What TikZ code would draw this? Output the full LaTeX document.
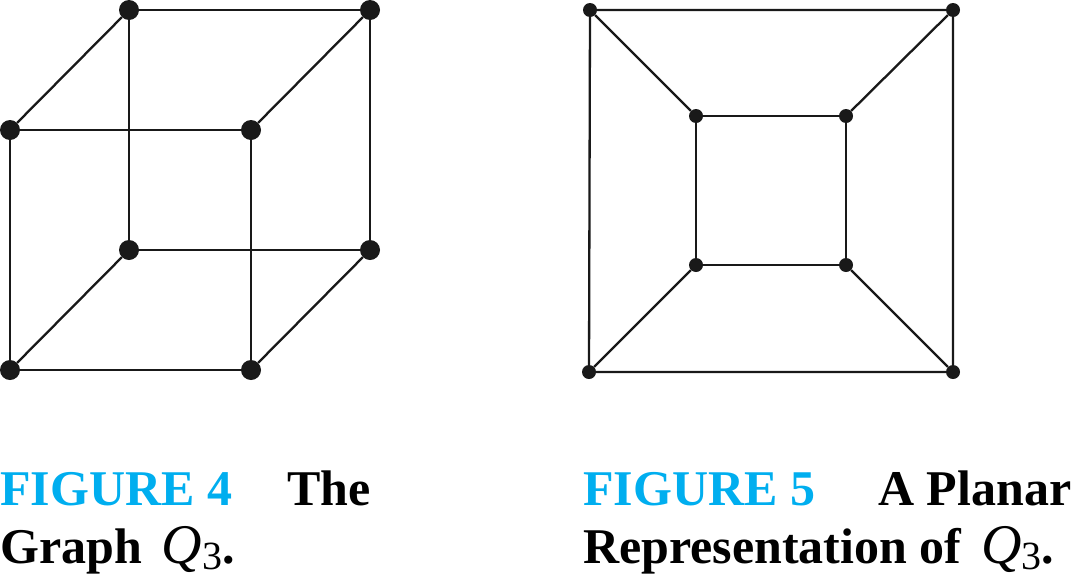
\documentclass[tikz,border=0pt]{standalone}
\usepackage{fontspec}
\setmainfont{Liberation Serif}
\definecolor{figcyan}{RGB}{0,174,239}
\tikzset{
  bigdot/.style={circle, fill=black!90, inner sep=0pt, minimum size=20pt},
  smalldot/.style={circle, fill=black!90, inner sep=0pt, minimum size=14pt},
  edge/.style={line width=2.3pt, black!90},
  caption/.style={anchor=base west, inner sep=0pt, font=\fontsize{50}{58}\selectfont\bfseries}
}
\newcommand{\qthree}{\hspace{0.15em}{\fontsize{56}{58}\selectfont\mdseries\itshape Q}\raisebox{-6pt}{\fontsize{40}{40}\selectfont\mdseries 3}}
\begin{document}
\begin{tikzpicture}[x=1pt, y=-1pt]
    \useasboundingbox (0,0) rectangle (1078,576);

    % Cube Q3: front face
    \node[bigdot] (fa) at (10,130) {};
    \node[bigdot] (fb) at (251,130) {};
    \node[bigdot] (fc) at (251,370) {};
    \node[bigdot] (fd) at (10,370) {};
    % Cube Q3: back face
    \node[bigdot] (ba) at (129,10) {};
    \node[bigdot] (bb) at (370,10) {};
    \node[bigdot] (bc) at (370,250) {};
    \node[bigdot] (bd) at (129,250) {};
    % Cube edges
    \draw[edge] (fa) -- (fb) -- (fc) -- (fd) -- (fa);
    \draw[edge] (ba) -- (bb) -- (bc) -- (bd) -- (ba);
    \draw[edge] (fa) -- (ba);
    \draw[edge] (fb) -- (bb);
    \draw[edge] (fc) -- (bc);
    \draw[edge] (fd) -- (bd);

    % Planar Q3: outer square
    \node[smalldot] (oa) at (590,10) {};
    \node[smalldot] (ob) at (953,10) {};
    \node[smalldot] (oc) at (953,372) {};
    \node[smalldot] (od) at (589,372) {};
    % Planar Q3: inner square
    \node[smalldot] (ia) at (696,116) {};
    \node[smalldot] (ib) at (846,116) {};
    \node[smalldot] (ic) at (846,265) {};
    \node[smalldot] (id) at (696,265) {};
    % Planar edges
    \draw[edge] (oa) -- (ob) -- (oc) -- (od) -- (oa);
    \draw[edge] (ia) -- (ib) -- (ic) -- (id) -- (ia);
    \draw[edge] (oa) -- (ia);
    \draw[edge] (ob) -- (ib);
    \draw[edge] (oc) -- (ic);
    \draw[edge] (od) -- (id);

    % Captions
    \node[caption, text=figcyan] (fig4) at (0,505) {FIGURE 4};
    \node[caption] (fig4a) at (287,505) {The};
    \node[caption] (fig4b) at (0,563) {Graph \qthree.};
    \node[caption, text=figcyan] (fig5) at (583,505) {FIGURE 5};
    \node[caption] (fig5a) at (878,505) {A Planar};
    \node[caption] (fig5b) at (583,563) {Representation of \qthree.};
\end{tikzpicture}
\end{document}
